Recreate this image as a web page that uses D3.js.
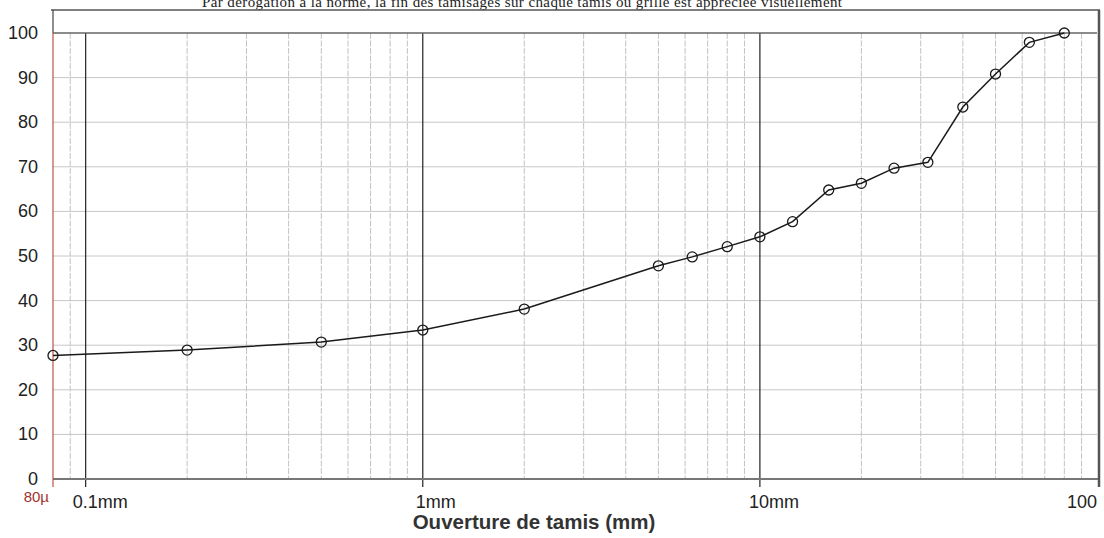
<!DOCTYPE html>
<html>
<head>
<meta charset="utf-8">
<script src="https://cdn.jsdelivr.net/npm/d3@7"></script>
<style>
  html, body { margin: 0; padding: 0; background: #fff; }
  svg { display: block; }
</style>
</head>
<body>
<div id="chart"></div>
<script>
// sieve openings (mm) and cumulative passing (%)
const sieves = [0.08, 0.2, 0.5, 1, 2, 5, 6.3, 8, 10, 12.5, 16, 20, 25, 31.5, 40, 50, 63, 80];
const passing = [27.7, 28.9, 30.7, 33.4, 38.1, 47.8, 49.8, 52.1, 54.3, 57.7, 64.8, 66.3, 69.7, 71.0, 83.4, 90.8, 97.9, 100];

const yTicks = [0, 10, 20, 30, 40, 50, 60, 70, 80, 90, 100];
const xMajor = [0.1, 1, 10, 100];
const xLabels = ['0.1mm', '1mm', '10mm', '100'];
const title = 'Par dérogation à la norme, la fin des tamisages sur chaque tamis ou grille est appréciée visuellement';

const width = 1104;
const height = 538;
const plotLeft = 53, plotRight = 1097, plotTop = 33, plotBottom = 479, frameTop = 10;

const svg = d3.select('#chart')
  .append('svg')
  .attr('width', width)
  .attr('height', height);

const x = d3.scaleLog().domain([0.08, 100]).range([plotLeft, plotRight]);
const y = d3.scaleLinear().domain([0, 100]).range([plotBottom, plotTop]);

// minor log grid: 2..9 per decade
const minor = [];
[0.01, 0.1, 1, 10].forEach((d) => {
  for (let k = 2; k <= 9; k++) {
    const v = d * k;
    if (v > 0.08 && v < 100) minor.push(v);
  }
});

// header note, clipped by the top of the page like the scan
svg.append('text')
  .attr('x', 202)
  .attr('y', 7)
  .attr('font-family', 'Liberation Serif, Times New Roman, serif')
  .attr('font-size', 15)
  .attr('textLength', 640)
  .attr('fill', '#222')
  .text(title);

// frame above the 100 line
svg.append('line')
  .attr('x1', 51).attr('x2', 1100)
  .attr('y1', frameTop).attr('y2', frameTop)
  .attr('stroke', '#555').attr('stroke-width', 1.5);

svg.append('line')
  .attr('x1', plotLeft).attr('x2', plotLeft)
  .attr('y1', frameTop).attr('y2', plotTop)
  .attr('stroke', '#444').attr('stroke-width', 1.2);

// horizontal grid
svg.append('g')
  .selectAll('line')
  .data(yTicks.filter((d) => d > 0 && d < 100))
  .join('line')
  .attr('x1', plotLeft).attr('x2', plotRight)
  .attr('y1', (d) => y(d)).attr('y2', (d) => y(d))
  .attr('stroke', '#c8c8cc').attr('stroke-width', 1);

// minor vertical grid
svg.append('g')
  .selectAll('line')
  .data(minor)
  .join('line')
  .attr('x1', (d) => x(d)).attr('x2', (d) => x(d))
  .attr('y1', plotTop).attr('y2', plotBottom)
  .attr('stroke', '#c2c2c7').attr('stroke-width', 1)
  .attr('stroke-dasharray', '6,1.5');

// major vertical lines
svg.append('g')
  .selectAll('line')
  .data(xMajor.slice(0, 3))
  .join('line')
  .attr('x1', (d) => x(d)).attr('x2', (d) => x(d))
  .attr('y1', plotTop).attr('y2', plotBottom + 8)
  .attr('stroke', '#222').attr('stroke-width', 1.2);

// top 100 line
svg.append('line')
  .attr('x1', plotLeft).attr('x2', plotRight)
  .attr('y1', y(100)).attr('y2', y(100))
  .attr('stroke', '#666').attr('stroke-width', 1.3);

// bottom axis line
svg.append('line')
  .attr('x1', plotLeft).attr('x2', plotRight + 2)
  .attr('y1', plotBottom).attr('y2', plotBottom)
  .attr('stroke', '#777').attr('stroke-width', 2.2);

// right border
svg.append('line')
  .attr('x1', 1099).attr('x2', 1099)
  .attr('y1', frameTop).attr('y2', plotBottom + 8)
  .attr('stroke', '#555').attr('stroke-width', 2.5);

// red left axis
svg.append('line')
  .attr('x1', plotLeft).attr('x2', plotLeft)
  .attr('y1', plotTop).attr('y2', plotBottom + 8)
  .attr('stroke', '#c0504d').attr('stroke-width', 1.2);

// y labels
svg.append('g')
  .selectAll('text')
  .data(yTicks)
  .join('text')
  .attr('x', 38)
  .attr('y', (d) => y(d) + 6)
  .attr('text-anchor', 'end')
  .attr('font-family', 'Liberation Sans, Arial, sans-serif')
  .attr('font-size', 18)
  .attr('fill', '#222')
  .text((d) => d);

// x labels
const xOffsets = [-13, -7, -11, 0];
svg.append('g')
  .selectAll('text')
  .data(xMajor)
  .join('text')
  .attr('x', (d, i) => x(d) + xOffsets[i])
  .attr('y', 508)
  .attr('text-anchor', (d, i) => (i === 3 ? 'end' : 'start'))
  .attr('font-family', 'Liberation Sans, Arial, sans-serif')
  .attr('font-size', 18)
  .attr('fill', '#222')
  .text((d, i) => xLabels[i]);

svg.append('text')
  .attr('x', 49)
  .attr('y', 502)
  .attr('text-anchor', 'end')
  .attr('font-family', 'Liberation Sans, Arial, sans-serif')
  .attr('font-size', 15)
  .attr('fill', '#a0332e')
  .text('80µ');

svg.append('text')
  .attr('x', 534)
  .attr('y', 529)
  .attr('text-anchor', 'middle')
  .attr('font-family', 'Liberation Sans, Arial, sans-serif')
  .attr('font-size', 20.5)
  .attr('font-weight', 'bold')
  .attr('fill', '#333')
  .text('Ouverture de tamis (mm)');

// curve
const pts = sieves.map((s, i) => [s, passing[i]]);
svg.append('path')
  .datum(pts)
  .attr('fill', 'none')
  .attr('stroke', '#1a1a1a')
  .attr('stroke-width', 1.5)
  .attr('d', d3.line().x((d) => x(d[0])).y((d) => y(d[1])));

svg.append('g')
  .selectAll('circle')
  .data(pts)
  .join('circle')
  .attr('cx', (d) => x(d[0]))
  .attr('cy', (d) => y(d[1]))
  .attr('r', 5)
  .attr('fill', 'none')
  .attr('stroke', '#1a1a1a')
  .attr('stroke-width', 1.3);
</script>
</body>
</html>
